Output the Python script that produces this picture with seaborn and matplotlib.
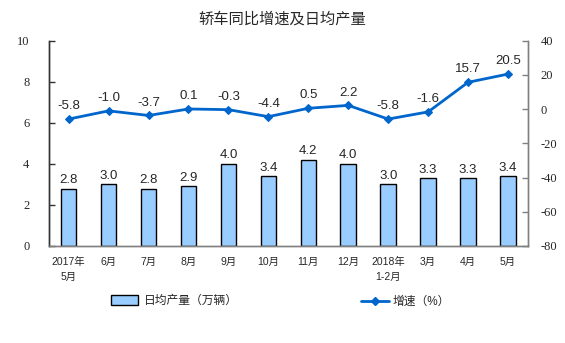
import matplotlib
matplotlib.use("Agg")
import matplotlib.pyplot as plt
import seaborn as sns
import numpy as np
import pandas as pd
from matplotlib.lines import Line2D
from matplotlib.patches import Patch

categories = ["2017年\n5月", "6月", "7月", "8月", "9月", "10月", "11月", "12月",
              "2018年\n1-2月", "3月", "4月", "5月"]
daily_output = [2.8, 3.0, 2.8, 2.9, 4.0, 3.4, 4.2, 4.0, 3.0, 3.3, 3.3, 3.4]
growth = [-5.8, -1.0, -3.7, 0.1, -0.3, -4.4, 0.5, 2.2, -5.8, -1.6, 15.7, 20.5]
left_ticks = [0, 2, 4, 6, 8, 10]
right_ticks = [-80, -60, -40, -20, 0, 20, 40]
title = "轿车同比增速及日均产量"
bar_label = "日均产量（万辆）"
line_label = "增速（%）"

sns.set_theme(style="white")
plt.rcParams["font.family"] = ["Liberation Sans", "Noto Sans CJK SC", "DejaVu Sans"]

df = pd.DataFrame({"cat": categories, "output": daily_output, "growth": growth,
                   "pos": np.arange(len(categories))})

fig = plt.figure(figsize=(5.65, 3.43), dpi=100)
ax = fig.add_axes([0.0862, 0.2828, 0.8483, 0.5985])

bar_color = "#99CCFF"
line_color = "#0066CC"
dark = "#333333"
gray = "#808080"

sns.barplot(data=df, x="cat", y="output", ax=ax, color=bar_color, width=0.39,
            edgecolor="black", linewidth=1.0, saturation=1)
ax.set_ylim(0, 10)
ax.set_xlim(-0.5, len(categories) - 0.5)
ax.set_yticks(left_ticks)
ax.set_yticklabels([str(t) for t in left_ticks], family="Liberation Serif", fontsize=9)
ax.set_xlabel("")
ax.set_ylabel("")
ax.set_xticks(range(len(categories)))
ax.set_xticklabels(categories, fontsize=7.5, linespacing=1.6)
ax.tick_params(axis="x", length=0, pad=8)
ax.set_xticks(np.arange(-0.5, len(categories) + 0.5, 1), minor=True)
ax.tick_params(axis="x", which="minor", direction="in", length=3, color=gray, width=0.8)
ax.tick_params(axis="y", direction="in", length=4, color=dark, width=1.0, pad=14)

for i, v in enumerate(daily_output):
    ax.text(i, v + 0.12, f"{v:.1f}", ha="center", va="bottom", fontsize=9.5)

for s in ["left", "right", "bottom"]:
    ax.spines[s].set_visible(True)
    ax.spines[s].set_linewidth(1.0)
ax.spines["left"].set_color(dark)
ax.spines["right"].set_color(gray)
ax.spines["bottom"].set_color(gray)
ax.spines["top"].set_visible(False)

ax2 = ax.twinx()
sns.lineplot(data=df, x="pos", y="growth", ax=ax2, color=line_color, linewidth=2.0,
             marker="D", markersize=4.5, markeredgecolor=line_color)
ax2.set_ylim(-80, 40)
ax2.set_yticks(right_ticks)
ax2.set_yticklabels([str(t) for t in right_ticks], family="Liberation Serif", fontsize=9)
ax2.set_ylabel("")
ax2.set_xlabel("")
ax2.tick_params(axis="y", direction="in", length=4, color=gray, width=1.0, pad=9)
ax2.spines["left"].set_color(dark)
ax2.spines["right"].set_color(gray)
ax2.spines["bottom"].set_color(gray)
for s in ["left", "right", "bottom"]:
    ax2.spines[s].set_linewidth(1.0)
ax2.spines["top"].set_visible(False)
ax2.set_xlim(-0.5, len(categories) - 0.5)

for i, v in enumerate(growth):
    ax2.text(i, v + 4, f"{v:.1f}", ha="center", va="bottom", fontsize=9.5)

fig.text(0.5, 0.945, title, ha="center", va="center", fontsize=11)

h1 = Patch(facecolor=bar_color, edgecolor="black", linewidth=1.0)
h2 = Line2D([0], [0], color=line_color, linewidth=2.0, marker="D", markersize=4.5)
fig.legend([h1], [bar_label], loc="center left", bbox_to_anchor=(0.178, 0.122),
           frameon=False, fontsize=8.5, handlelength=2.3, handleheight=0.9,
           handletextpad=0.45)
fig.legend([h2], [line_label], loc="center left", bbox_to_anchor=(0.621, 0.12),
           frameon=False, fontsize=8.5, handlelength=2.3, handletextpad=0.3)

fig.savefig("out.png", dpi=100)
